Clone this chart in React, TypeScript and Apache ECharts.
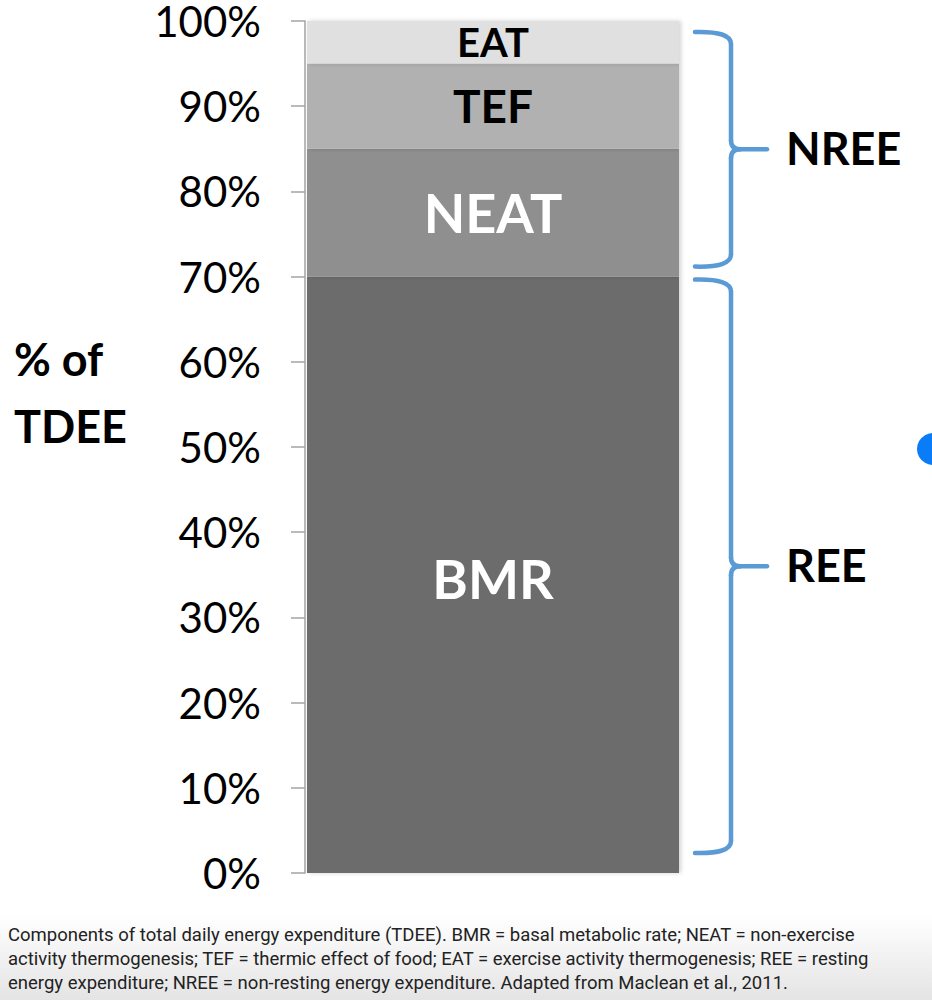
import React, { useEffect, useRef } from "react";
import * as echarts from "echarts";

const categories = ["TDEE"];
const segmentNames = ["BMR", "NEAT", "TEF", "EAT"];
const segmentValues = [70, 15, 10, 5];
const segmentColors = ["#6c6c6c", "#8f8f8f", "#b1b1b1", "#e0e0e0"];
const segmentLabelColors = ["#ffffff", "#ffffff", "#000000", "#000000"];
const segmentLabelSizes = [54, 54, 46, 40];
const segmentLabelOffsets = [4, 0, -1, 0];
const yTicks = { min: 0, max: 100, interval: 10 };
const braceGroups = [
  { name: "NREE", from: 70, to: 100 },
  { name: "REE", from: 0, to: 70 },
];
const caption = [
  "Components of total daily energy expenditure (TDEE). BMR = basal metabolic rate; NEAT = non-exercise",
  "activity thermogenesis; TEF = thermic effect of food; EAT = exercise activity thermogenesis; REE = resting",
  "energy expenditure; NREE = non-resting energy expenditure. Adapted from Maclean et al., 2011.",
];

const BRACE_COLOR = "#5b9bd5";

function brace(x0: number, xv: number, xTip: number, yTop: number, yBot: number, r: number, r2: number) {
  const yMid = (yTop + yBot) / 2;
  const style = { stroke: BRACE_COLOR, lineWidth: 4.5, fill: null, lineCap: "round" as const };
  return [
    { type: "bezierCurve", shape: { x1: x0, y1: yTop, cpx1: xv, cpy1: yTop - 1, x2: xv, y2: yTop + r }, style },
    { type: "line", shape: { x1: xv, y1: yTop + r, x2: xv, y2: yMid - r2 }, style },
    { type: "bezierCurve", shape: { x1: xv, y1: yMid - r2, cpx1: xv, cpy1: yMid, x2: xv + r2, y2: yMid }, style },
    { type: "line", shape: { x1: xv + r2, y1: yMid, x2: xTip, y2: yMid }, style },
    { type: "bezierCurve", shape: { x1: xv + r2, y1: yMid, cpx1: xv, cpy1: yMid, x2: xv, y2: yMid + r2 }, style },
    { type: "line", shape: { x1: xv, y1: yMid + r2, x2: xv, y2: yBot - r }, style },
    { type: "bezierCurve", shape: { x1: xv, y1: yBot - r, cpx1: xv, cpy1: yBot + 1, x2: x0, y2: yBot }, style },
  ];
}

export default function App() {
  const ref = useRef<HTMLDivElement>(null);
  useEffect(() => {
    if (!ref.current) return;
    const chart = echarts.init(ref.current, null, { renderer: "svg" });
    const option: any = {
      animation: false,
      backgroundColor: "#ffffff",
      grid: { left: 305, top: 14, width: 376, bottom: 127 },
      xAxis: { type: "category", data: categories, show: false },
      yAxis: {
        type: "value",
        min: yTicks.min,
        max: yTicks.max,
        interval: yTicks.interval,
        axisLine: { show: true, lineStyle: { color: "#a3a3a3", width: 1.5 } },
        axisTick: { show: true, length: 14, lineStyle: { color: "#a3a3a3", width: 1.5 } },
        splitLine: { show: false },
        axisLabel: {
          formatter: "{value}%",
          fontFamily: "Lato",
          fontSize: 42,
          lineHeight: 30,
          color: "#000",
          margin: 44,
        },
      },
      series: segmentNames.map((name, i) => ({
        name,
        type: "bar",
        stack: "total",
        barWidth: 372,
        data: [segmentValues[i]],
        itemStyle: {
          color: segmentColors[i],
          shadowColor: "rgba(0,0,0,0.18)",
          shadowBlur: 4,
          shadowOffsetX: 2,
        },
        label: {
          show: true,
          position: "inside",
          formatter: "{a}",
          fontFamily: "Lato",
          fontWeight: "bold",
          fontSize: segmentLabelSizes[i],
          color: segmentLabelColors[i],
          offset: [0, segmentLabelOffsets[i]],
        },
      })),
    };
    chart.setOption(option);

    const barRight = (chart.convertToPixel({ xAxisIndex: 0 }, 0) as number) + 186;
    const x0 = barRight + 16;
    const xv = barRight + 52;
    const xTip = barRight + 88;
    const graphics: any[] = [];
    graphics.push({
      type: "rect",
      silent: true,
      z: -10,
      shape: { x: 0, y: 915, width: 932, height: 85 },
      style: {
        fill: new echarts.graphic.LinearGradient(0, 0, 0, 1, [
          { offset: 0, color: "#ffffff" },
          { offset: 1, color: "#e4e4e4" },
        ]),
      },
    });
    braceGroups.forEach((g, gi) => {
      const yHi = chart.convertToPixel({ yAxisIndex: 0 }, g.to) as number;
      const yLo = chart.convertToPixel({ yAxisIndex: 0 }, g.from) as number;
      const yTop = gi === 0 ? yHi + 11 : yHi + 3;
      const yBot = gi === 0 ? yLo - 10 : yLo - 20;
      graphics.push(...brace(x0, xv, xTip, yTop, yBot, 12, 9));
      graphics.push({
        type: "text",
        x: xTip + 19,
        y: (yTop + yBot) / 2 - 1,
        style: {
          text: g.name,
          font: "bold 45px Lato",
          fill: "#000",
          verticalAlign: "middle",
          align: "left",
        },
      });
    });
    graphics.push({
      type: "text",
      x: 14,
      y: 392,
      style: {
        text: "% of\nTDEE",
        font: "bold 45px Lato",
        lineHeight: 67,
        fill: "#000",
        verticalAlign: "middle",
        align: "left",
      },
    });
    caption.forEach((line, i) => {
      graphics.push({
        type: "text",
        x: 8,
        y: 935 + i * 24,
        style: {
          text: line,
          font: "18.5px Roboto",
          fill: "#222",
          verticalAlign: "middle",
          align: "left",
        },
      });
    });
    graphics.push({
      type: "circle",
      shape: { cx: 933, cy: 449, r: 16 },
      style: { fill: "#0b7cf7" },
    });
    chart.setOption({ graphic: graphics });

    return () => chart.dispose();
  }, []);
  return (
    <div
      ref={ref}
      style={{ position: "absolute", left: 0, top: 0, width: 932, height: 1000 }}
    />
  );
}
